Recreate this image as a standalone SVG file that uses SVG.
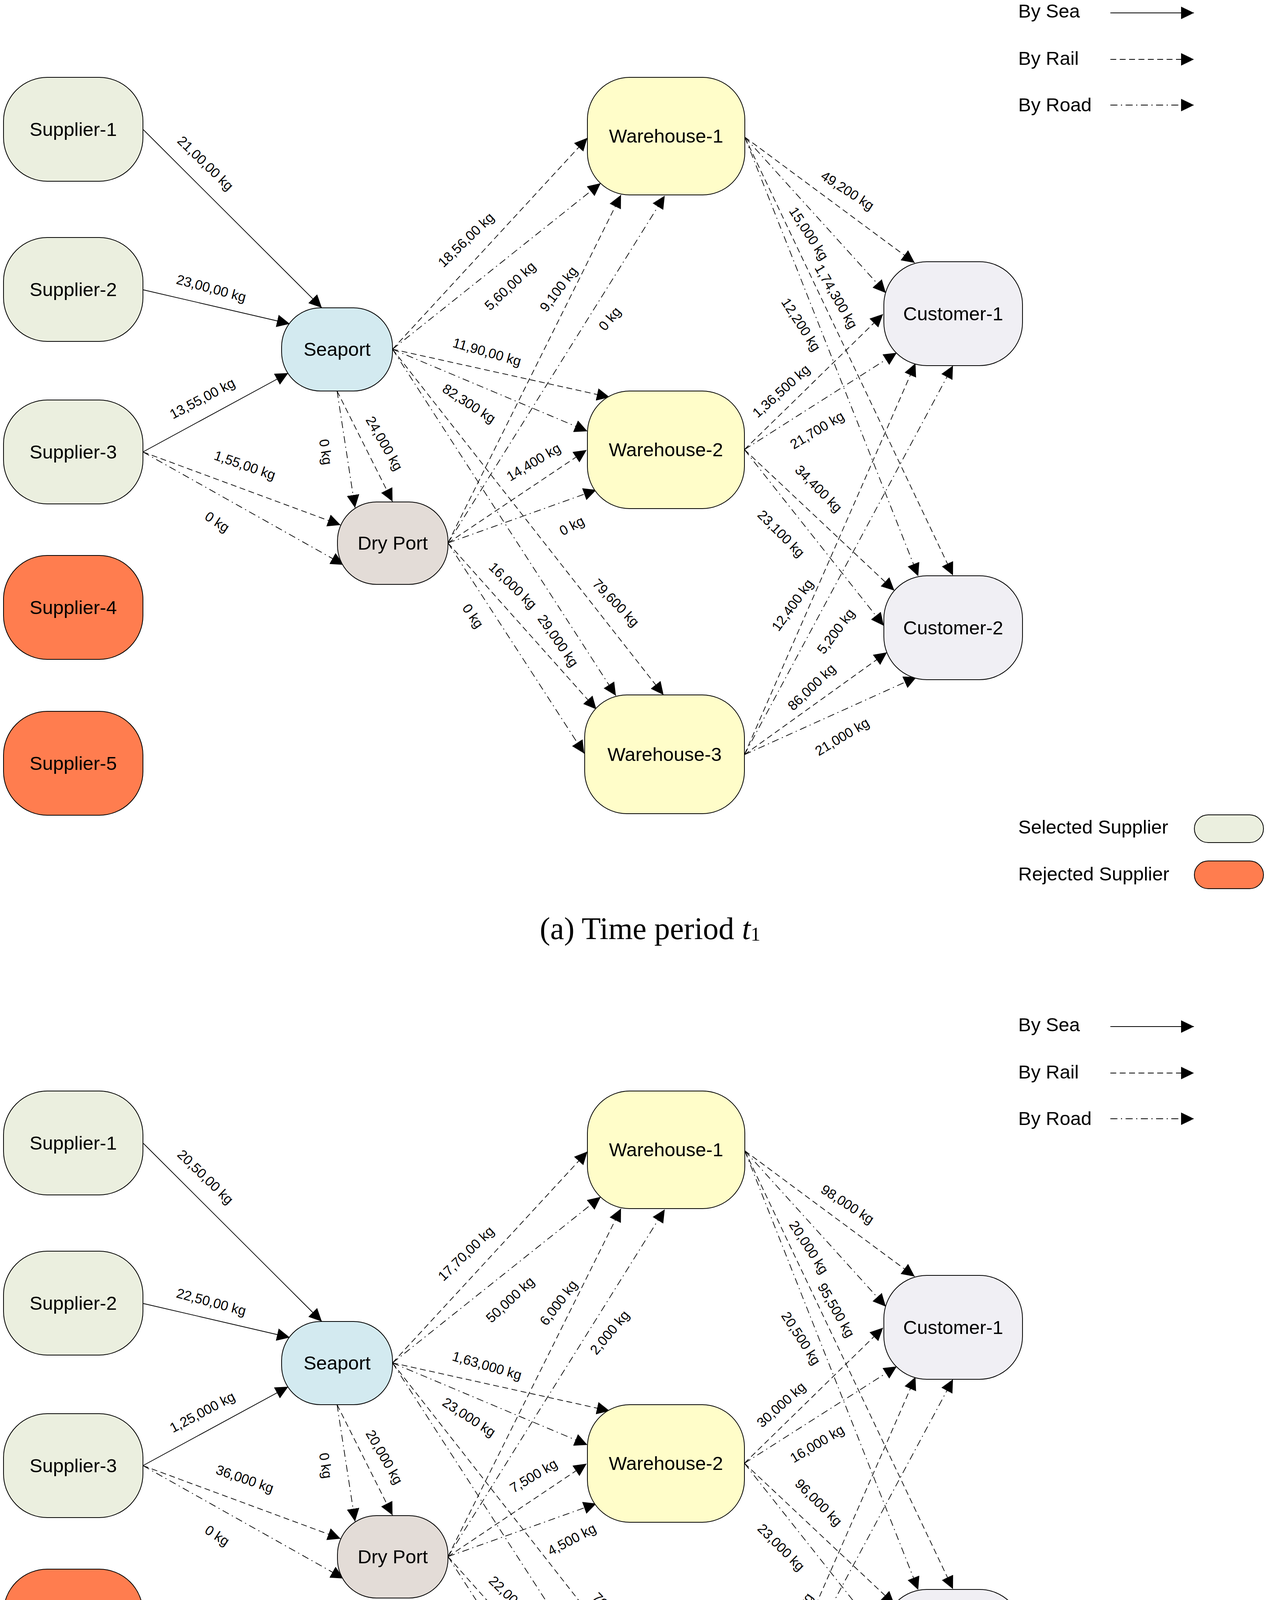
<svg xmlns="http://www.w3.org/2000/svg" width="3244" height="5034" viewBox="0 0 3244 5034">
<style>
.node{stroke:#000;stroke-width:2}
.sel{fill:#EBEFDF}.rej{fill:#FF7D4F}.sp{fill:#D3EAF0}.dp{fill:#E3DCD7}.wh{fill:#FFFDC9}.cu{fill:#F0EFF4}
.nt{font-family:"Liberation Sans",Arial,sans-serif;font-size:49px;text-anchor:middle;fill:#000}
.lg{font-family:"Liberation Sans",Arial,sans-serif;font-size:49px;fill:#000}
.el{font-family:"Liberation Sans",Arial,sans-serif;font-size:35px;text-anchor:middle;fill:#000}
.e{stroke:#000;stroke-width:1.8;fill:none;marker-end:url(#ah)}
.rail{stroke-dasharray:15 9}
.road{stroke-dasharray:18 9 3 9}
.cap{font-family:"Liberation Serif","Times New Roman",serif;font-size:80px;fill:#000}
</style>
<defs>
<marker id="ah" markerUnits="userSpaceOnUse" markerWidth="34" markerHeight="34" refX="33" refY="16" orient="auto">
<path d="M0,0 L33,16 L0,32 Z" fill="#000"/>
</marker>
</defs>
<rect x="0" y="0" width="3244" height="5034" fill="#fff"/>

<!-- ============ PANEL A ============ -->
<g id="panel-a">
<g id="a-legend-modes">
<text class="lg" x="2607" y="45">By Sea</text>
<line class="e" x1="2843" y1="33" x2="3057" y2="33"/>
<text class="lg" x="2607" y="166">By Rail</text>
<line class="e rail" x1="2843" y1="152" x2="3057" y2="152"/>
<text class="lg" x="2607" y="285">By Road</text>
<line class="e road" x1="2843" y1="269" x2="3057" y2="269"/>
</g>
<g id="a-legend-suppliers">
<text class="lg" x="2607" y="2134">Selected Supplier</text>
<rect class="node sel" x="3058" y="2086" width="177" height="71" rx="35.5"/>
<text class="lg" x="2607" y="2254">Rejected Supplier</text>
<rect class="node rej" x="3058" y="2204" width="177" height="71" rx="35.5"/>
</g>

<g id="a-connectors">
<line class="e" x1="367" y1="332" x2="824" y2="788"/>
<line class="e" x1="367" y1="742" x2="742" y2="829"/>
<line class="e" x1="366" y1="1157" x2="738" y2="955"/>
<line class="e rail" x1="366" y1="1157" x2="872" y2="1344"/>
<line class="e road" x1="366" y1="1157" x2="880" y2="1446"/>
<line class="e road" x1="863" y1="1001" x2="909" y2="1300"/>
<line class="e rail" x1="863" y1="1001" x2="1005" y2="1284"/>
<line class="e rail" x1="1005" y1="894" x2="1504" y2="353"/>
<line class="e road" x1="1005" y1="894" x2="1538" y2="469"/>
<line class="e rail" x1="1005" y1="894" x2="1561" y2="1017"/>
<line class="e road" x1="1005" y1="894" x2="1504" y2="1104"/>
<line class="e rail" x1="1147" y1="1390" x2="1590" y2="499"/>
<line class="e road" x1="1147" y1="1390" x2="1702" y2="501"/>
<line class="e rail" x1="1147" y1="1390" x2="1502" y2="1152"/>
<line class="e road" x1="1147" y1="1390" x2="1527" y2="1254"/>
<line class="e rail" x1="1147" y1="1390" x2="1527" y2="1816"/>
<line class="e road" x1="1147" y1="1390" x2="1496" y2="1929"/>
<line class="e road" x1="1005" y1="894" x2="1577" y2="1781"/>
<line class="e rail" x1="1005" y1="894" x2="1699" y2="1779"/>
<line class="e rail" x1="1907" y1="351" x2="2342" y2="673"/>
<line class="e road" x1="1907" y1="351" x2="2268" y2="750"/>
<line class="e rail" x1="1907" y1="351" x2="2440" y2="1473"/>
<line class="e road" x1="1907" y1="351" x2="2351" y2="1475"/>
<line class="e rail" x1="1906" y1="1151" x2="2261" y2="804"/>
<line class="e road" x1="1906" y1="1151" x2="2296" y2="903"/>
<line class="e rail" x1="1906" y1="1151" x2="2290" y2="1512"/>
<line class="e road" x1="1906" y1="1151" x2="2263" y2="1602"/>
<line class="e rail" x1="1906" y1="1932" x2="2344" y2="930"/>
<line class="e road" x1="1906" y1="1932" x2="2440" y2="936"/>
<line class="e rail" x1="1906" y1="1932" x2="2271" y2="1670"/>
<line class="e road" x1="1906" y1="1932" x2="2347" y2="1733"/>
</g>

<g id="a-edge-labels">
<text class="el" transform="translate(526,418) rotate(44)" dy="12">21,00,00 kg</text>
<text class="el" transform="translate(541,738) rotate(15)" dy="12">23,00,00 kg</text>
<text class="el" transform="translate(518,1020) rotate(-28)" dy="12">13,55,00 kg</text>
<text class="el" transform="translate(627,1191) rotate(19)" dy="12">1,55,00 kg</text>
<text class="el" transform="translate(556,1336) rotate(33)" dy="12">0 kg</text>
<text class="el" transform="translate(834,1157) rotate(81)" dy="12">0 kg</text>
<text class="el" transform="translate(984,1135) rotate(60)" dy="12">24,000 kg</text>
<text class="el" transform="translate(1193,614) rotate(-44)" dy="12">18,56,00 kg</text>
<text class="el" transform="translate(1306,732) rotate(-43)" dy="12">5,60,00 kg</text>
<text class="el" transform="translate(1247,901) rotate(16)" dy="12">11,90,00 kg</text>
<text class="el" transform="translate(1201,1033) rotate(33)" dy="12">82,300 kg</text>
<text class="el" transform="translate(1430,740) rotate(-53)" dy="12">9,100 kg</text>
<text class="el" transform="translate(1561,816) rotate(-50)" dy="12">0 kg</text>
<text class="el" transform="translate(1366,1183) rotate(-31)" dy="12">14,400 kg</text>
<text class="el" transform="translate(1464,1346) rotate(-28)" dy="12">0 kg</text>
<text class="el" transform="translate(1313,1499) rotate(44)" dy="12">16,000 kg</text>
<text class="el" transform="translate(1211,1577) rotate(55)" dy="12">0 kg</text>
<text class="el" transform="translate(1429,1640) rotate(55)" dy="12">29,000 kg</text>
<text class="el" transform="translate(1577,1543) rotate(46)" dy="12">79,600 kg</text>
<text class="el" transform="translate(2170,488) rotate(33)" dy="12">49,200 kg</text>
<text class="el" transform="translate(2071,598) rotate(57)" dy="12">15,000 kg</text>
<text class="el" transform="translate(2141,759) rotate(60)" dy="12">1,74,300 kg</text>
<text class="el" transform="translate(2051,831) rotate(57)" dy="12">12,200 kg</text>
<text class="el" transform="translate(2000,1001) rotate(-42)" dy="12">1,36,500 kg</text>
<text class="el" transform="translate(2092,1101) rotate(-31)" dy="12">21,700 kg</text>
<text class="el" transform="translate(2096,1251) rotate(45)" dy="12">34,400 kg</text>
<text class="el" transform="translate(2000,1366) rotate(45)" dy="12">23,100 kg</text>
<text class="el" transform="translate(2029,1549) rotate(-54)" dy="12">12,400 kg</text>
<text class="el" transform="translate(2140,1616) rotate(-53)" dy="12">5,200 kg</text>
<text class="el" transform="translate(2078,1759) rotate(-44)" dy="12">86,000 kg</text>
<text class="el" transform="translate(2156,1886) rotate(-31)" dy="12">21,000 kg</text>
</g>

<g id="a-supplier-1"><rect class="node sel" x="9" y="198" width="357" height="266" rx="112"/><text class="nt" x="187.5" y="348">Supplier-1</text></g>
<g id="a-supplier-2"><rect class="node sel" x="9" y="608" width="357" height="266" rx="112"/><text class="nt" x="187.5" y="758">Supplier-2</text></g>
<g id="a-supplier-3"><rect class="node sel" x="9" y="1024" width="357" height="266" rx="112"/><text class="nt" x="187.5" y="1174">Supplier-3</text></g>
<g id="a-supplier-4"><rect class="node rej" x="9" y="1422" width="357" height="266" rx="112"/><text class="nt" x="187.5" y="1572">Supplier-4</text></g>
<g id="a-supplier-5"><rect class="node rej" x="9" y="1821" width="357" height="266" rx="112"/><text class="nt" x="187.5" y="1971">Supplier-5</text></g>
<g id="a-seaport"><rect class="node sp" x="721" y="788" width="284" height="213" rx="100"/><text class="nt" x="863" y="911">Seaport</text></g>
<g id="a-dryport"><rect class="node dp" x="864" y="1285" width="283" height="211" rx="100"/><text class="nt" x="1005.5" y="1407">Dry Port</text></g>
<g id="a-warehouse-1"><rect class="node wh" x="1504" y="198" width="403" height="301" rx="108"/><text class="nt" x="1705.5" y="365">Warehouse-1</text></g>
<g id="a-warehouse-2"><rect class="node wh" x="1504" y="1001" width="402" height="301" rx="108"/><text class="nt" x="1705" y="1168">Warehouse-2</text></g>
<g id="a-warehouse-3"><rect class="node wh" x="1497" y="1779" width="409" height="304" rx="108"/><text class="nt" x="1701.5" y="1948">Warehouse-3</text></g>
<g id="a-customer-1"><rect class="node cu" x="2263" y="670" width="355" height="266" rx="110"/><text class="nt" x="2440.5" y="820">Customer-1</text></g>
<g id="a-customer-2"><rect class="node cu" x="2263" y="1474" width="355" height="266" rx="110"/><text class="nt" x="2440.5" y="1624">Customer-2</text></g>

<text class="cap" x="1382" y="2404">(a) Time period <tspan font-style="italic">t</tspan><tspan font-size="50" dy="4">1</tspan></text>
</g>

<!-- ============ PANEL B ============ -->
<g id="panel-b" transform="translate(0,2595)">
<g id="b-legend-modes">
<text class="lg" x="2607" y="45">By Sea</text>
<line class="e" x1="2843" y1="33" x2="3057" y2="33"/>
<text class="lg" x="2607" y="166">By Rail</text>
<line class="e rail" x1="2843" y1="152" x2="3057" y2="152"/>
<text class="lg" x="2607" y="285">By Road</text>
<line class="e road" x1="2843" y1="269" x2="3057" y2="269"/>
</g>
<g id="b-legend-suppliers">
<text class="lg" x="2607" y="2134">Selected Supplier</text>
<rect class="node sel" x="3058" y="2086" width="177" height="71" rx="35.5"/>
<text class="lg" x="2607" y="2254">Rejected Supplier</text>
<rect class="node rej" x="3058" y="2204" width="177" height="71" rx="35.5"/>
</g>

<g id="b-connectors">
<line class="e" x1="367" y1="332" x2="824" y2="788"/>
<line class="e" x1="367" y1="742" x2="742" y2="829"/>
<line class="e" x1="366" y1="1157" x2="738" y2="955"/>
<line class="e rail" x1="366" y1="1157" x2="872" y2="1344"/>
<line class="e road" x1="366" y1="1157" x2="880" y2="1446"/>
<line class="e road" x1="863" y1="1001" x2="909" y2="1300"/>
<line class="e rail" x1="863" y1="1001" x2="1005" y2="1284"/>
<line class="e rail" x1="1005" y1="894" x2="1504" y2="353"/>
<line class="e road" x1="1005" y1="894" x2="1538" y2="469"/>
<line class="e rail" x1="1005" y1="894" x2="1561" y2="1017"/>
<line class="e road" x1="1005" y1="894" x2="1504" y2="1104"/>
<line class="e rail" x1="1147" y1="1390" x2="1590" y2="499"/>
<line class="e road" x1="1147" y1="1390" x2="1702" y2="501"/>
<line class="e rail" x1="1147" y1="1390" x2="1502" y2="1152"/>
<line class="e road" x1="1147" y1="1390" x2="1527" y2="1254"/>
<line class="e rail" x1="1147" y1="1390" x2="1527" y2="1816"/>
<line class="e road" x1="1147" y1="1390" x2="1496" y2="1929"/>
<line class="e road" x1="1005" y1="894" x2="1577" y2="1781"/>
<line class="e rail" x1="1005" y1="894" x2="1699" y2="1779"/>
<line class="e rail" x1="1907" y1="351" x2="2342" y2="673"/>
<line class="e road" x1="1907" y1="351" x2="2268" y2="750"/>
<line class="e rail" x1="1907" y1="351" x2="2440" y2="1473"/>
<line class="e road" x1="1907" y1="351" x2="2351" y2="1475"/>
<line class="e rail" x1="1906" y1="1151" x2="2261" y2="804"/>
<line class="e road" x1="1906" y1="1151" x2="2296" y2="903"/>
<line class="e rail" x1="1906" y1="1151" x2="2290" y2="1512"/>
<line class="e road" x1="1906" y1="1151" x2="2263" y2="1602"/>
<line class="e rail" x1="1906" y1="1932" x2="2344" y2="930"/>
<line class="e road" x1="1906" y1="1932" x2="2440" y2="936"/>
<line class="e rail" x1="1906" y1="1932" x2="2271" y2="1670"/>
<line class="e road" x1="1906" y1="1932" x2="2347" y2="1733"/>
</g>

<g id="b-edge-labels">
<text class="el" transform="translate(526,418) rotate(44)" dy="12">20,50,00 kg</text>
<text class="el" transform="translate(541,738) rotate(15)" dy="12">22,50,00 kg</text>
<text class="el" transform="translate(518,1020) rotate(-28)" dy="12">1,25,000 kg</text>
<text class="el" transform="translate(627,1191) rotate(19)" dy="12">36,000 kg</text>
<text class="el" transform="translate(556,1336) rotate(33)" dy="12">0 kg</text>
<text class="el" transform="translate(834,1157) rotate(81)" dy="12">0 kg</text>
<text class="el" transform="translate(984,1135) rotate(60)" dy="12">20,000 kg</text>
<text class="el" transform="translate(1193,614) rotate(-44)" dy="12">17,70,00 kg</text>
<text class="el" transform="translate(1306,732) rotate(-43)" dy="12">50,000 kg</text>
<text class="el" transform="translate(1247,901) rotate(16)" dy="12">1,63,000 kg</text>
<text class="el" transform="translate(1201,1033) rotate(33)" dy="12">23,000 kg</text>
<text class="el" transform="translate(1430,740) rotate(-53)" dy="12">6,000 kg</text>
<text class="el" transform="translate(1561,816) rotate(-50)" dy="12">2,000 kg</text>
<text class="el" transform="translate(1366,1183) rotate(-31)" dy="12">7,500 kg</text>
<text class="el" transform="translate(1464,1346) rotate(-28)" dy="12">4,500 kg</text>
<text class="el" transform="translate(1313,1499) rotate(44)" dy="12">22,000 kg</text>
<text class="el" transform="translate(1211,1577) rotate(55)" dy="12">8,000 kg</text>
<text class="el" transform="translate(1429,1640) rotate(55)" dy="12">57,000 kg</text>
<text class="el" transform="translate(1577,1543) rotate(46)" dy="12">70,000 kg</text>
<text class="el" transform="translate(2170,488) rotate(33)" dy="12">98,000 kg</text>
<text class="el" transform="translate(2071,598) rotate(57)" dy="12">20,000 kg</text>
<text class="el" transform="translate(2141,759) rotate(60)" dy="12">95,500 kg</text>
<text class="el" transform="translate(2051,831) rotate(57)" dy="12">20,500 kg</text>
<text class="el" transform="translate(2000,1001) rotate(-42)" dy="12">30,000 kg</text>
<text class="el" transform="translate(2092,1101) rotate(-31)" dy="12">16,000 kg</text>
<text class="el" transform="translate(2096,1251) rotate(45)" dy="12">96,000 kg</text>
<text class="el" transform="translate(2000,1366) rotate(45)" dy="12">23,000 kg</text>
<text class="el" transform="translate(2029,1549) rotate(-54)" dy="12">65,000 kg</text>
<text class="el" transform="translate(2140,1616) rotate(-53)" dy="12">29,000 kg</text>
<text class="el" transform="translate(2078,1759) rotate(-44)" dy="12">86,500 kg</text>
<text class="el" transform="translate(2156,1886) rotate(-31)" dy="12">28,500 kg</text>
</g>

<g id="b-supplier-1"><rect class="node sel" x="9" y="198" width="357" height="266" rx="112"/><text class="nt" x="187.5" y="348">Supplier-1</text></g>
<g id="b-supplier-2"><rect class="node sel" x="9" y="608" width="357" height="266" rx="112"/><text class="nt" x="187.5" y="758">Supplier-2</text></g>
<g id="b-supplier-3"><rect class="node sel" x="9" y="1024" width="357" height="266" rx="112"/><text class="nt" x="187.5" y="1174">Supplier-3</text></g>
<g id="b-supplier-4"><rect class="node rej" x="9" y="1422" width="357" height="266" rx="112"/><text class="nt" x="187.5" y="1572">Supplier-4</text></g>
<g id="b-supplier-5"><rect class="node rej" x="9" y="1821" width="357" height="266" rx="112"/><text class="nt" x="187.5" y="1971">Supplier-5</text></g>
<g id="b-seaport"><rect class="node sp" x="721" y="788" width="284" height="213" rx="100"/><text class="nt" x="863" y="911">Seaport</text></g>
<g id="b-dryport"><rect class="node dp" x="864" y="1285" width="283" height="211" rx="100"/><text class="nt" x="1005.5" y="1407">Dry Port</text></g>
<g id="b-warehouse-1"><rect class="node wh" x="1504" y="198" width="403" height="301" rx="108"/><text class="nt" x="1705.5" y="365">Warehouse-1</text></g>
<g id="b-warehouse-2"><rect class="node wh" x="1504" y="1001" width="402" height="301" rx="108"/><text class="nt" x="1705" y="1168">Warehouse-2</text></g>
<g id="b-warehouse-3"><rect class="node wh" x="1497" y="1779" width="409" height="304" rx="108"/><text class="nt" x="1701.5" y="1948">Warehouse-3</text></g>
<g id="b-customer-1"><rect class="node cu" x="2263" y="670" width="355" height="266" rx="110"/><text class="nt" x="2440.5" y="820">Customer-1</text></g>
<g id="b-customer-2"><rect class="node cu" x="2263" y="1474" width="355" height="266" rx="110"/><text class="nt" x="2440.5" y="1624">Customer-2</text></g>

<text class="cap" x="1382" y="2404">(b) Time period <tspan font-style="italic">t</tspan><tspan font-size="50" dy="4">2</tspan></text>
</g>
</svg>
